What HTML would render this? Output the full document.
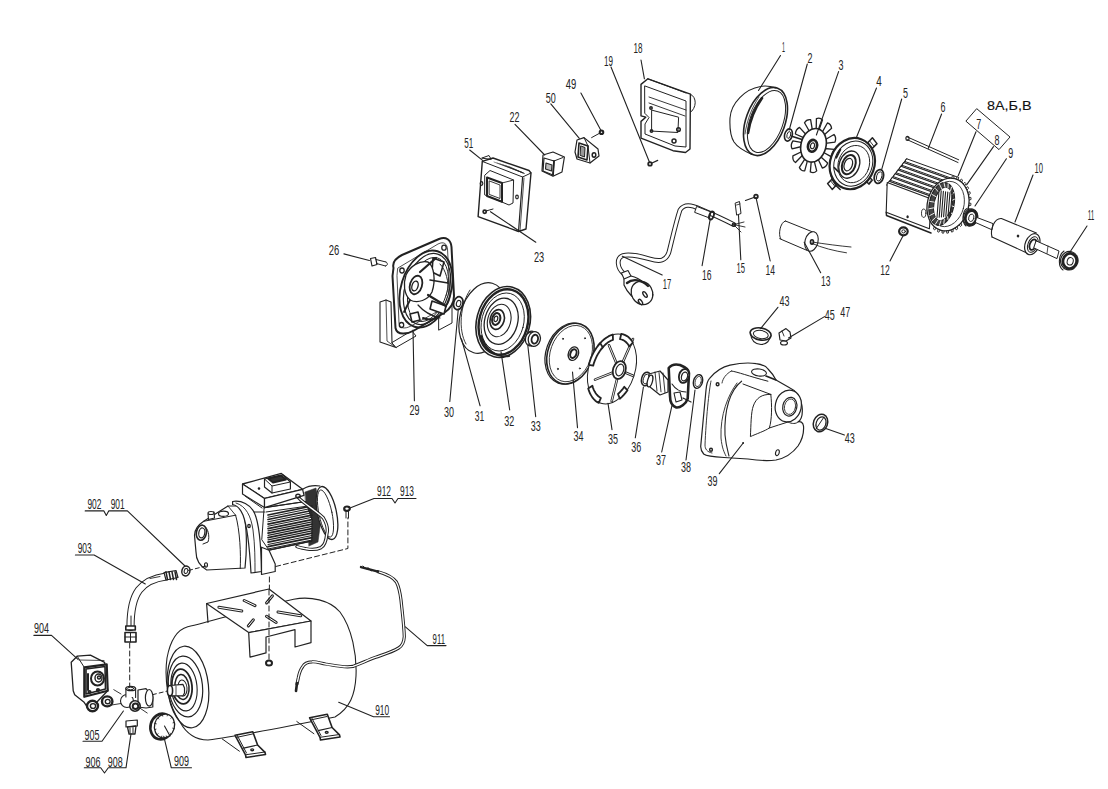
<!DOCTYPE html>
<html><head><meta charset="utf-8"><style>
html,body{margin:0;padding:0;background:#fff;}
svg{display:block;}
.n{font-family:"Liberation Sans",sans-serif;fill:#222;}
.c{font-family:"Liberation Sans",sans-serif;fill:#111;}
</style></head><body>
<svg width="1108" height="789" viewBox="0 0 1108 789" stroke-linecap="round" stroke-linejoin="round">
<rect width="1108" height="789" fill="#fff"/>
<path d="M775.8 88 C 770 86, 765 85.5, 760.5 86.5 C 745 89, 731 103, 730 118 C 729.5 128, 731 137, 734 142 C 738 148, 744 151, 752 154.5" stroke="#222" stroke-width="1.1" fill="none" />
<ellipse cx="0" cy="0" rx="19.5" ry="35.5" transform="translate(765.5,121.5) rotate(20)" stroke="#222" stroke-width="1.6" fill="none" />
<ellipse cx="0" cy="0" rx="16.5" ry="32.5" transform="translate(766.5,121.5) rotate(20)" stroke="#222" stroke-width="1.0" fill="none" />
<path d="M762 98 C 755 108, 750 120, 748 133" stroke="#222" stroke-width="2.6" fill="none" />
<path d="M759 97 C 752 107, 747 120, 745 134" stroke="#222" stroke-width="0.8" fill="none" />
<ellipse cx="0" cy="0" rx="3.8" ry="6.2" transform="translate(788.4,135) rotate(15)" stroke="#222" stroke-width="1.6" fill="none" />
<ellipse cx="0" cy="0" rx="1.8" ry="3.5" transform="translate(788.8,135) rotate(15)" stroke="#222" stroke-width="0.9" fill="none" />
<path d="M791.8 136.2 L802.0 139.6" stroke="#222" stroke-width="1.6" fill="none" />
<path d="M824.5 148.5 L834.1 149.4 Q835.0 153.7 831.5 156.9 L823.2 152.2 Z" stroke="#222" stroke-width="1.3" fill="#fff" stroke-linejoin="round"/>
<path d="M820.4 156.4 L827.6 163.0 Q826.5 167.1 822.3 168.0 L817.9 158.7 Z" stroke="#222" stroke-width="1.3" fill="#fff" stroke-linejoin="round"/>
<path d="M814.1 160.7 L816.7 170.9 Q813.9 173.7 810.3 171.9 L811.3 161.0 Z" stroke="#222" stroke-width="1.3" fill="#fff" stroke-linejoin="round"/>
<path d="M807.6 160.1 L804.7 170.8 Q801.1 171.2 799.4 167.4 L805.3 158.3 Z" stroke="#222" stroke-width="1.3" fill="#fff" stroke-linejoin="round"/>
<path d="M803.0 154.8 L795.5 162.5 Q792.3 160.5 792.9 155.8 L802.0 151.5 Z" stroke="#222" stroke-width="1.3" fill="#fff" stroke-linejoin="round"/>
<path d="M801.7 146.5 L792.0 148.8 Q790.2 145.0 792.9 140.9 L802.3 142.7 Z" stroke="#222" stroke-width="1.3" fill="#fff" stroke-linejoin="round"/>
<path d="M804.1 137.8 L795.4 134.0 Q795.5 129.6 799.5 127.4 L806.2 134.7 Z" stroke="#222" stroke-width="1.3" fill="#fff" stroke-linejoin="round"/>
<path d="M809.5 131.5 L804.5 122.7 Q806.5 119.1 810.6 119.6 L812.4 130.1 Z" stroke="#222" stroke-width="1.3" fill="#fff" stroke-linejoin="round"/>
<path d="M816.2 129.6 L816.4 118.7 Q819.8 117.0 822.5 119.9 L818.9 130.3 Z" stroke="#222" stroke-width="1.3" fill="#fff" stroke-linejoin="round"/>
<path d="M822.0 132.6 L827.4 123.0 Q831.0 123.9 831.6 128.3 L823.8 135.3 Z" stroke="#222" stroke-width="1.3" fill="#fff" stroke-linejoin="round"/>
<path d="M825.1 139.7 L834.0 134.5 Q836.7 137.5 835.0 142.1 L825.3 143.4 Z" stroke="#222" stroke-width="1.3" fill="#fff" stroke-linejoin="round"/>
<ellipse cx="0" cy="0" rx="12.5" ry="17.1" transform="translate(813.5,145.3) rotate(15)" stroke="#222" stroke-width="1.6" fill="#fff" />
<ellipse cx="0" cy="0" rx="4.5" ry="6" transform="translate(812.5,145.8) rotate(15)" stroke="#222" stroke-width="2.6" fill="none" />
<ellipse cx="0" cy="0" rx="2" ry="3" transform="translate(812.5,145.8) rotate(15)" stroke="#222" stroke-width="1.2" fill="none" />
<polygon points="867.5,143.0 872.4,137.8 877.0,143.6 872.0,148.7" stroke="#222" stroke-width="1.5" fill="#fff" stroke-linejoin="round" />
<path d="M869.6 140.8 L874.1 146.5" stroke="#222" stroke-width="0.9" fill="none" />
<polygon points="837.1,184.2 832.2,189.4 827.6,183.6 832.6,178.5" stroke="#222" stroke-width="1.5" fill="#fff" stroke-linejoin="round" />
<path d="M835.0 186.4 L830.5 180.7" stroke="#222" stroke-width="0.9" fill="none" />
<polygon points="869.9,177.6 872.2,180.2 869.1,184.1 866.5,181.8" stroke="#222" stroke-width="1.5" fill="#fff" stroke-linejoin="round" />
<path d="M871.8 179.6 L868.5 183.7" stroke="#222" stroke-width="0.9" fill="none" />
<path d="M840.3 143.6 C 826.3 153.6, 826.3 179.6, 840.3 189.6" stroke="#222" stroke-width="1.3" fill="none" />
<ellipse cx="0" cy="0" rx="22.2" ry="26" transform="translate(852.3,163.6) rotate(20)" stroke="#222" stroke-width="2.2" fill="#fff" />
<ellipse cx="0" cy="0" rx="19" ry="23" transform="translate(853.3,163.6) rotate(20)" stroke="#222" stroke-width="1.0" fill="none" />
<ellipse cx="0" cy="0" rx="15.5" ry="19" transform="translate(853.8,164.1) rotate(20)" stroke="#222" stroke-width="0.9" fill="none" />
<ellipse cx="0" cy="0" rx="10" ry="14" transform="translate(849.3,164.6) rotate(20)" stroke="#222" stroke-width="1.3" fill="none" />
<ellipse cx="0" cy="0" rx="6.5" ry="10" transform="translate(848.8,164.6) rotate(20)" stroke="#222" stroke-width="2.0" fill="none" />
<ellipse cx="0" cy="0" rx="4" ry="6.5" transform="translate(848.3,164.6) rotate(20)" stroke="#222" stroke-width="1.2" fill="none" />
<path d="M836.3 157.6 L 840.3 149.6" stroke="#222" stroke-width="2.0" fill="none" />
<path d="M834.3 167.6 L 838.3 171.6" stroke="#222" stroke-width="1.6" fill="none" />
<ellipse cx="0" cy="0" rx="4.5" ry="7" transform="translate(878.9,176.5) rotate(15)" stroke="#222" stroke-width="1.8" fill="none" />
<ellipse cx="0" cy="0" rx="2.6" ry="4.8" transform="translate(879.2,176.5) rotate(15)" stroke="#222" stroke-width="0.9" fill="none" />
<path d="M907.4 137.0 L958.7 159.8" stroke="#222" stroke-width="1.0" fill="none" />
<path d="M907.4 139.8 L958.0 162.5" stroke="#222" stroke-width="1.0" fill="none" />
<ellipse cx="0" cy="0" rx="1.6" ry="2" transform="translate(907.5,138.4) rotate(0)" stroke="#222" stroke-width="1.2" fill="none" />
<polygon points="906.7,158.8 958.7,177.5 957.2,180.3 905.2,161.6" stroke="#222" stroke-width="1.0" fill="#fff" stroke-linejoin="round" />
<path d="M905.2 161.6 L903.7 162.4 L955.7 181.1" stroke="#222" stroke-width="0.9" fill="none" />
<polygon points="903.8,162.6 954.5,180.8 953.0,183.6 902.3,165.4" stroke="#222" stroke-width="1.0" fill="#fff" stroke-linejoin="round" />
<path d="M902.3 165.4 L900.8 166.2 L951.5 184.4" stroke="#222" stroke-width="0.9" fill="none" />
<polygon points="900.9,166.3 950.2,184.1 948.7,186.9 899.4,169.1" stroke="#222" stroke-width="1.0" fill="#fff" stroke-linejoin="round" />
<path d="M899.4 169.1 L897.9 169.9 L947.2 187.7" stroke="#222" stroke-width="0.9" fill="none" />
<polygon points="898.0,170.1 946.0,187.4 944.5,190.2 896.5,172.9" stroke="#222" stroke-width="1.0" fill="#fff" stroke-linejoin="round" />
<path d="M896.5 172.9 L895.0 173.7 L943.0 191.0" stroke="#222" stroke-width="0.9" fill="none" />
<polygon points="895.1,173.9 941.8,190.7 940.3,193.5 893.6,176.7" stroke="#222" stroke-width="1.0" fill="#fff" stroke-linejoin="round" />
<path d="M893.6 176.7 L892.1 177.5 L938.8 194.3" stroke="#222" stroke-width="0.9" fill="none" />
<polygon points="892.2,177.6 937.5,194.0 936.0,196.8 890.7,180.4" stroke="#222" stroke-width="1.0" fill="#fff" stroke-linejoin="round" />
<path d="M890.7 180.4 L889.2 181.2 L934.5 197.6" stroke="#222" stroke-width="0.9" fill="none" />
<polygon points="889.3,181.4 933.3,197.2 931.8,200.0 887.8,184.2" stroke="#222" stroke-width="1.0" fill="#fff" stroke-linejoin="round" />
<path d="M887.8 184.2 L886.3 185.0 L930.3 200.8" stroke="#222" stroke-width="0.9" fill="none" />
<path d="M906.7 158.8 L889.3 181.4" stroke="#222" stroke-width="1.0" fill="none" />
<polygon points="887.2,182.5 931.4,199.0 929.4,228.8 886.2,212.3" stroke="#222" stroke-width="1.1" fill="#fff" stroke-linejoin="round" />
<path d="M886.2 212.3 L886.5 215.5 L931.0 233.0" stroke="#222" stroke-width="1.5" fill="none" />
<ellipse cx="0" cy="0" rx="2.2" ry="4.2" transform="translate(923.7,213.2) rotate(0)" stroke="#222" stroke-width="0.9" fill="none" />
<ellipse cx="0" cy="0" rx="0.6" ry="0.9" transform="translate(907.6,216.7) rotate(0)" stroke="#222" stroke-width="1.2" fill="none" />
<polygon points="968.2,208.5 970.1,209.4 969.6,211.3 967.5,211.2" stroke="#222" stroke-width="0.9" fill="#fff" stroke-linejoin="round" />
<polygon points="966.6,213.8 968.2,215.2 967.4,217.0 965.4,216.3" stroke="#222" stroke-width="0.9" fill="#fff" stroke-linejoin="round" />
<polygon points="964.1,218.7 965.4,220.5 964.3,222.1 962.6,221.0" stroke="#222" stroke-width="0.9" fill="#fff" stroke-linejoin="round" />
<polygon points="960.9,223.0 961.9,225.1 960.5,226.5 959.1,224.9" stroke="#222" stroke-width="0.9" fill="#fff" stroke-linejoin="round" />
<polygon points="957.2,226.5 957.7,228.9 956.2,229.9 955.2,227.9" stroke="#222" stroke-width="0.9" fill="#fff" stroke-linejoin="round" />
<polygon points="953.0,229.0 953.2,231.5 951.6,232.1 950.9,229.9" stroke="#222" stroke-width="0.9" fill="#fff" stroke-linejoin="round" />
<polygon points="948.7,230.5 948.4,233.0 946.8,233.2 946.5,230.8" stroke="#222" stroke-width="0.9" fill="#fff" stroke-linejoin="round" />
<polygon points="944.3,230.8 943.6,233.2 942.0,233.0 942.1,230.5" stroke="#222" stroke-width="0.9" fill="#fff" stroke-linejoin="round" />
<polygon points="940.1,230.0 938.9,232.2 937.5,231.6 938.1,229.1" stroke="#222" stroke-width="0.9" fill="#fff" stroke-linejoin="round" />
<polygon points="936.2,228.0 934.7,230.0 933.4,229.0 934.4,226.7" stroke="#222" stroke-width="0.9" fill="#fff" stroke-linejoin="round" />
<polygon points="951.7,178.2 952.4,175.8 954.0,176.0 953.9,178.5" stroke="#222" stroke-width="0.9" fill="#fff" stroke-linejoin="round" />
<polygon points="955.9,179.0 957.1,176.8 958.5,177.4 957.9,179.9" stroke="#222" stroke-width="0.9" fill="#fff" stroke-linejoin="round" />
<polygon points="959.8,181.0 961.3,179.0 962.6,180.0 961.6,182.3" stroke="#222" stroke-width="0.9" fill="#fff" stroke-linejoin="round" />
<polygon points="963.2,183.9 964.9,182.3 966.0,183.7 964.6,185.8" stroke="#222" stroke-width="0.9" fill="#fff" stroke-linejoin="round" />
<polygon points="965.9,187.8 967.8,186.7 968.6,188.3 967.0,190.0" stroke="#222" stroke-width="0.9" fill="#fff" stroke-linejoin="round" />
<polygon points="967.8,192.4 969.9,191.7 970.3,193.6 968.5,194.9" stroke="#222" stroke-width="0.9" fill="#fff" stroke-linejoin="round" />
<polygon points="968.9,197.5 970.9,197.4 971.1,199.4 969.1,200.2" stroke="#222" stroke-width="0.9" fill="#fff" stroke-linejoin="round" />
<polygon points="969.0,203.0 971.0,203.4 970.8,205.4 968.7,205.7" stroke="#222" stroke-width="0.9" fill="#fff" stroke-linejoin="round" />
<ellipse cx="0" cy="0" rx="20.6" ry="26.7" transform="translate(948,204.5) rotate(15)" stroke="#222" stroke-width="1.3" fill="#fff" />
<ellipse cx="0" cy="0" rx="17" ry="23" transform="translate(947,204.0) rotate(15)" stroke="#222" stroke-width="0.8" fill="none" />
<ellipse cx="0" cy="0" rx="12.3" ry="21.6" transform="translate(941.7,204.0) rotate(12)" stroke="#222" stroke-width="1.2" fill="#444" />
<ellipse cx="0" cy="0" rx="9" ry="17" transform="translate(943,204.0) rotate(12)" stroke="#222" stroke-width="1.0" fill="#fff" />
<path d="M951.8 205.9 L953.7 206.6" stroke="#fff" stroke-width="0.9" fill="none" />
<path d="M950.1 211.4 L951.5 213.6" stroke="#fff" stroke-width="0.9" fill="none" />
<path d="M947.5 216.1 L948.0 219.5" stroke="#fff" stroke-width="0.9" fill="none" />
<path d="M944.3 219.3 L943.8 223.6" stroke="#fff" stroke-width="0.9" fill="none" />
<path d="M941.0 220.7 L939.4 225.3" stroke="#fff" stroke-width="0.9" fill="none" />
<path d="M938.0 220.1 L935.2 224.4" stroke="#fff" stroke-width="0.9" fill="none" />
<path d="M935.5 217.5 L931.8 221.0" stroke="#fff" stroke-width="0.9" fill="none" />
<path d="M934.0 213.3 L929.6 215.6" stroke="#fff" stroke-width="0.9" fill="none" />
<path d="M933.5 207.9 L928.9 208.8" stroke="#fff" stroke-width="0.9" fill="none" />
<path d="M934.2 202.1 L929.7 201.4" stroke="#fff" stroke-width="0.9" fill="none" />
<path d="M935.9 196.6 L931.9 194.4" stroke="#fff" stroke-width="0.9" fill="none" />
<path d="M938.5 191.9 L935.4 188.5" stroke="#fff" stroke-width="0.9" fill="none" />
<path d="M941.7 188.7 L939.6 184.4" stroke="#fff" stroke-width="0.9" fill="none" />
<path d="M945.0 187.3 L944.0 182.7" stroke="#fff" stroke-width="0.9" fill="none" />
<path d="M948.0 187.9 L948.2 183.6" stroke="#fff" stroke-width="0.9" fill="none" />
<path d="M950.5 190.5 L951.6 187.0" stroke="#fff" stroke-width="0.9" fill="none" />
<path d="M952.0 194.7 L953.8 192.4" stroke="#fff" stroke-width="0.9" fill="none" />
<path d="M952.5 200.1 L954.5 199.2" stroke="#fff" stroke-width="0.9" fill="none" />
<path d="M939.0 190.5 L937.0 217.5" stroke="#222" stroke-width="1.1" fill="none" />
<path d="M941.2 190.9 L939.2 217.2" stroke="#222" stroke-width="1.1" fill="none" />
<path d="M943.4 191.3 L941.4 216.9" stroke="#222" stroke-width="1.1" fill="none" />
<path d="M945.6 191.7 L943.6 216.6" stroke="#222" stroke-width="1.1" fill="none" />
<path d="M947.8 192.1 L945.8 216.3" stroke="#222" stroke-width="1.1" fill="none" />
<path d="M950.0 192.5 L948.0 216.0" stroke="#222" stroke-width="1.1" fill="none" />
<path d="M952.2 192.9 L950.2 215.7" stroke="#222" stroke-width="1.1" fill="none" />
<path d="M967 208.5 C 962 211, 962 223, 966 226" stroke="#222" stroke-width="1.1" fill="none" />
<ellipse cx="0" cy="0" rx="7.2" ry="8.7" transform="translate(970.5,217.4) rotate(15)" stroke="#222" stroke-width="1.2" fill="#fff" />
<ellipse cx="0" cy="0" rx="5.6" ry="7.2" transform="translate(971,217.6) rotate(15)" stroke="#222" stroke-width="2.8" fill="none" />
<ellipse cx="0" cy="0" rx="2.6" ry="3.8" transform="translate(971.3,217.8) rotate(15)" stroke="#222" stroke-width="0.9" fill="none" />
<polygon points="976.7,217.4 993.0,223.6 992.0,229.8 975.7,222.6" stroke="#222" stroke-width="1.0" fill="#fff" stroke-linejoin="round" />
<polygon points="1001.4,218.5 1036.4,232.9 1028.0,253.5 992.0,237.0" stroke="#fff" stroke-width="0.01" fill="#fff" stroke-linejoin="round" />
<path d="M1001.4 218.5 L1036.4 232.9" stroke="#222" stroke-width="1.1" fill="none" />
<path d="M992.0 237.0 L1028.0 253.5" stroke="#222" stroke-width="1.1" fill="none" />
<path d="M1001.4 218.5 C 994 218, 990 230, 992 237" stroke="#222" stroke-width="1.1" fill="none" />
<ellipse cx="0" cy="0" rx="7" ry="11" transform="translate(1032.3,244.2) rotate(22)" stroke="#222" stroke-width="1.2" fill="#fff" />
<ellipse cx="0" cy="0" rx="4.8" ry="8.2" transform="translate(1032.8,244.5) rotate(22)" stroke="#222" stroke-width="1.0" fill="none" />
<ellipse cx="0" cy="0" rx="3.2" ry="5.5" transform="translate(1033,244.7) rotate(22)" stroke="#222" stroke-width="1.8" fill="none" />
<polygon points="1036.4,241.0 1059.0,251.0 1057.0,258.6 1034.0,248.0" stroke="#222" stroke-width="1.0" fill="#fff" stroke-linejoin="round" />
<path d="M1048.0 246.0 L1047.0 253.5" stroke="#222" stroke-width="0.8" fill="none" />
<ellipse cx="0" cy="0" rx="0.7" ry="0.9" transform="translate(1018,236) rotate(0)" stroke="#222" stroke-width="1.2" fill="none" />
<path d="M1064 251 C 1058 255, 1058 267, 1063 270" stroke="#222" stroke-width="1.1" fill="none" />
<ellipse cx="0" cy="0" rx="8.7" ry="9.3" transform="translate(1069.3,260.7) rotate(15)" stroke="#222" stroke-width="1.2" fill="#fff" />
<ellipse cx="0" cy="0" rx="6.8" ry="7.6" transform="translate(1069.8,261) rotate(15)" stroke="#222" stroke-width="2.8" fill="none" />
<ellipse cx="0" cy="0" rx="3" ry="3.8" transform="translate(1070.2,261.3) rotate(15)" stroke="#222" stroke-width="1.0" fill="none" />
<ellipse cx="0" cy="0" rx="4.3" ry="4" transform="translate(903.4,231.3) rotate(0)" stroke="#222" stroke-width="2.2" fill="none" />
<ellipse cx="0" cy="0" rx="1.8" ry="1.6" transform="translate(903.6,231.4) rotate(0)" stroke="#222" stroke-width="1.0" fill="none" />
<polygon points="785.4,221.0 814.8,232.8 809.0,250.4 780.7,238.7" stroke="#fff" stroke-width="0.01" fill="#fff" stroke-linejoin="round" />
<path d="M785.4 221.0 L814.8 232.8" stroke="#222" stroke-width="1.0" fill="none" />
<path d="M779.7 238.7 L807.0 250.4" stroke="#222" stroke-width="1.0" fill="none" />
<path d="M785.4 221 C 780 222, 778 235, 780.7 238.7" stroke="#222" stroke-width="1.0" fill="none" />
<ellipse cx="0" cy="0" rx="6.5" ry="10" transform="translate(811.5,241.5) rotate(15)" stroke="#222" stroke-width="1.1" fill="#fff" />
<path d="M812 242 C 825 244, 840 246, 851 247" stroke="#222" stroke-width="0.9" fill="none" />
<path d="M811 243 C 822 248, 835 251, 846.5 252.8" stroke="#222" stroke-width="0.9" fill="none" />
<ellipse cx="0" cy="0" rx="1.6" ry="2.2" transform="translate(812,242) rotate(0)" stroke="#222" stroke-width="1.5" fill="none" />
<ellipse cx="0" cy="0" rx="1.8" ry="1.8" transform="translate(756,196.4) rotate(0)" stroke="#222" stroke-width="1.8" fill="none" />
<path d="M754.5 197.2 L745.5 200.5" stroke="#222" stroke-width="1.2" fill="none" />
<polygon points="735.5,203.0 739.5,201.5 741.0,213.5 737.0,215.0" stroke="#222" stroke-width="1.0" fill="#fff" stroke-linejoin="round" />
<path d="M736.5 205.0 L740.0 204.0" stroke="#222" stroke-width="0.8" fill="none" />
<path d="M733.8 224.6 C 725 220, 712 214, 700 209 C 690 204, 684 204, 680 210 C 676 222, 672 240, 669 252 C 666 261, 660 262, 650 259 C 640 256, 630 254, 623 255.5 C 616 258, 617 268, 624 274" stroke="#222" stroke-width="4.8" fill="none" />
<path d="M733.8 224.6 C 725 220, 712 214, 700 209 C 690 204, 684 204, 680 210 C 676 222, 672 240, 669 252 C 666 261, 660 262, 650 259 C 640 256, 630 254, 623 255.5 C 616 258, 617 268, 624 274" stroke="#fff" stroke-width="2.8" fill="none" />
<polygon points="697.0,206.5 711.0,212.0 709.5,218.0 695.0,212.5" stroke="#222" stroke-width="1.0" fill="#fff" stroke-linejoin="round" />
<ellipse cx="0" cy="0" rx="2.2" ry="4.2" transform="translate(711.5,215.5) rotate(20)" stroke="#222" stroke-width="1.8" fill="none" />
<path d="M733.8 224.6 L744 222 M733.5 224.5 L745 227 M734 225 L741 232" stroke="#222" stroke-width="0.9" fill="none" />
<ellipse cx="0" cy="0" rx="1.5" ry="1.5" transform="translate(733.8,224.6) rotate(0)" stroke="#222" stroke-width="1.4" fill="none" />
<polygon points="621.4,273.0 628.0,270.5 632.0,278.0 625.0,281.0" stroke="#222" stroke-width="1.1" fill="#fff" stroke-linejoin="round" />
<path d="M624 279 L 631 276 C 640 278, 650 286, 653 295 L 642 303 C 634 300, 627 292, 624 285 Z" stroke="#222" stroke-width="1.2" fill="#fff" />
<ellipse cx="0" cy="0" rx="10.5" ry="12" transform="translate(642,293) rotate(-30)" stroke="#222" stroke-width="1.3" fill="#fff" />
<path d="M627 283 C 633 278, 642 280, 648 286" stroke="#222" stroke-width="2.4" fill="none" />
<ellipse cx="0" cy="0" rx="1.5" ry="3.2" transform="translate(645,294.5) rotate(-35)" stroke="#222" stroke-width="1.4" fill="none" />
<ellipse cx="0" cy="0" rx="1.5" ry="3" transform="translate(640.5,302) rotate(-35)" stroke="#222" stroke-width="1.4" fill="none" />
<path d="M690.4 94.2 C 697 97, 697 108, 689.7 113" stroke="#222" stroke-width="1.0" fill="none" />
<polygon points="641.0,84.4 647.9,78.8 690.4,94.2 690.0,149.0 685.5,152.5 673.0,150.7 641.0,138.1 641.0,121.4 645.8,117.2 641.0,115.8" stroke="#222" stroke-width="1.4" fill="#fff" stroke-linejoin="round" />
<polygon points="645.0,86.0 686.0,101.0 686.0,147.0 675.0,146.0 645.0,134.0 645.0,124.0 649.0,117.5 645.0,113.5" stroke="#222" stroke-width="1.0" fill="none" stroke-linejoin="round" />
<path d="M647.9 78.8 L686.0 93.0" stroke="#222" stroke-width="1.0" fill="none" />
<path d="M649.0 97.0 L686.0 110.0" stroke="#222" stroke-width="0.9" fill="none" />
<path d="M649.0 103.0 L685.0 116.0" stroke="#222" stroke-width="0.9" fill="none" />
<polygon points="652.0,110.2 678.6,117.2 677.9,132.5 652.0,131.1" stroke="#222" stroke-width="1.0" fill="none" stroke-linejoin="round" />
<ellipse cx="0" cy="0" rx="1.2" ry="1.2" transform="translate(651,108) rotate(0)" stroke="#222" stroke-width="1.5" fill="none" />
<ellipse cx="0" cy="0" rx="1.2" ry="1.2" transform="translate(651.5,131) rotate(0)" stroke="#222" stroke-width="1.5" fill="none" />
<ellipse cx="0" cy="0" rx="1.8" ry="1.8" transform="translate(678.5,129.5) rotate(0)" stroke="#222" stroke-width="1.5" fill="none" />
<ellipse cx="0" cy="0" rx="2.0" ry="2.0" transform="translate(674,141) rotate(0)" stroke="#222" stroke-width="1.5" fill="none" />
<ellipse cx="0" cy="0" rx="1.8" ry="1.8" transform="translate(650,163.9) rotate(0)" stroke="#222" stroke-width="1.8" fill="none" />
<path d="M651.5 163.2 L657.7 160.4" stroke="#222" stroke-width="1.2" fill="none" />
<ellipse cx="0" cy="0" rx="1.8" ry="1.8" transform="translate(601.5,132.3) rotate(0)" stroke="#222" stroke-width="2.0" fill="none" />
<path d="M600.0 133.0 L591.6 137.6" stroke="#222" stroke-width="1.0" fill="none" />
<polygon points="577.0,140.0 584.0,137.6 598.0,149.0 599.0,156.0 590.0,163.0 577.0,159.0 575.0,152.0" stroke="#222" stroke-width="1.2" fill="#fff" stroke-linejoin="round" />
<polygon points="579.0,143.0 588.0,146.0 587.0,160.0 578.0,157.0" stroke="#222" stroke-width="1.6" fill="#fff" stroke-linejoin="round" />
<polygon points="581.0,146.0 585.0,147.5 584.5,157.0 580.5,155.5" stroke="#222" stroke-width="1.0" fill="#999" stroke-linejoin="round" />
<path d="M584.0 137.6 L588.0 146.0" stroke="#222" stroke-width="1.0" fill="none" />
<path d="M590.0 163.0 L588.0 146.0" stroke="#222" stroke-width="1.0" fill="none" />
<ellipse cx="0" cy="0" rx="1.8" ry="2.2" transform="translate(594,155) rotate(0)" stroke="#222" stroke-width="1.5" fill="none" />
<polygon points="543.0,155.0 553.0,152.0 564.4,157.0 562.0,172.0 553.0,176.3 542.0,171.0" stroke="#222" stroke-width="1.2" fill="#fff" stroke-linejoin="round" />
<polygon points="544.0,158.0 554.0,161.0 553.0,175.0 543.0,171.0" stroke="#222" stroke-width="1.2" fill="none" stroke-linejoin="round" />
<polygon points="546.0,163.0 552.0,165.0 551.5,171.0 545.5,169.0" stroke="#222" stroke-width="1.1" fill="#bbb" stroke-linejoin="round" />
<path d="M554.0 161.0 L553.0 175.0" stroke="#222" stroke-width="1.8" fill="none" />
<path d="M554.0 161.0 L563.0 157.5" stroke="#222" stroke-width="1.0" fill="none" />
<polygon points="482.3,161.4 493.0,158.0 529.0,170.5 531.0,173.0 526.0,229.0 518.5,231.5 478.1,216.6" stroke="#222" stroke-width="1.4" fill="#fff" stroke-linejoin="round" />
<path d="M482.3 161.4 L522.6 177.0 L531.0 173.0" stroke="#222" stroke-width="1.0" fill="none" />
<path d="M522.6 177.0 L518.5 231.5" stroke="#222" stroke-width="1.2" fill="none" />
<path d="M524.0 178.0 L520.0 231.0" stroke="#222" stroke-width="0.8" fill="none" />
<polygon points="482.0,158.0 489.0,155.5 491.0,159.0" stroke="#222" stroke-width="1.0" fill="none" stroke-linejoin="round" />
<path d="M494.0 162.0 L522.0 172.5" stroke="#222" stroke-width="0.5" fill="none" />
<path d="M497.0 162.9 L522.5 172.7" stroke="#222" stroke-width="0.5" fill="none" />
<path d="M500.0 163.8 L523.0 172.9" stroke="#222" stroke-width="0.5" fill="none" />
<path d="M503.0 164.7 L523.5 173.1" stroke="#222" stroke-width="0.5" fill="none" />
<path d="M506.0 165.6 L524.0 173.3" stroke="#222" stroke-width="0.5" fill="none" />
<path d="M509.0 166.5 L524.5 173.5" stroke="#222" stroke-width="0.5" fill="none" />
<polygon points="485.0,175.0 490.0,170.5 513.6,180.0 513.0,203.0 509.0,205.0 485.0,195.0" stroke="#222" stroke-width="1.0" fill="#fff" stroke-linejoin="round" />
<polygon points="487.0,177.5 502.0,183.0 502.0,201.8 487.0,196.0" stroke="#222" stroke-width="2.0" fill="none" stroke-linejoin="round" />
<polygon points="489.5,181.0 500.0,185.0 500.0,198.5 489.5,194.5" stroke="#222" stroke-width="0.9" fill="none" stroke-linejoin="round" />
<path d="M502.0 183.0 L513.6 180.0" stroke="#222" stroke-width="0.9" fill="none" />
<ellipse cx="0" cy="0" rx="1.3" ry="1.8" transform="translate(481.5,183.5) rotate(0)" stroke="#222" stroke-width="1.2" fill="none" />
<ellipse cx="0" cy="0" rx="1.3" ry="1.8" transform="translate(517,197) rotate(0)" stroke="#222" stroke-width="1.2" fill="none" />
<ellipse cx="0" cy="0" rx="1.6" ry="1.6" transform="translate(484.7,211.7) rotate(0)" stroke="#222" stroke-width="1.7" fill="none" />
<path d="M486.0 211.0 L493.0 209.0" stroke="#222" stroke-width="1.0" fill="none" />
<polygon points="370.5,258.5 375.5,257.5 377.0,264.5 372.0,266.0" stroke="#222" stroke-width="1.2" fill="#fff" stroke-linejoin="round" />
<path d="M376.0 259.5 L386.0 262.0" stroke="#222" stroke-width="1.0" fill="none" />
<path d="M376.5 263.5 L385.5 266.0" stroke="#222" stroke-width="1.0" fill="none" />
<path d="M386 262 C 388 263, 388 265.5, 385.5 266" stroke="#222" stroke-width="1.0" fill="none" />
<polygon points="380.0,302.0 386.0,300.0 391.0,302.0 392.0,343.0 396.0,347.5 380.0,342.0" stroke="#222" stroke-width="1.1" fill="#fff" stroke-linejoin="round" />
<path d="M386.0 300.0 L387.0 341.0 L396.0 347.5" stroke="#222" stroke-width="0.8" fill="none" />
<polygon points="392.0,343.0 396.0,347.5 416.0,336.0 412.0,331.0" stroke="#222" stroke-width="1.0" fill="#fff" stroke-linejoin="round" />
<polygon points="439.0,310.0 452.0,303.0 452.0,323.0 439.0,330.0" stroke="#222" stroke-width="1.0" fill="#fff" stroke-linejoin="round" />
<path d="M393.5 268 C 392 262, 396 258, 402 255 L 439 239 C 446 236, 451 240, 451.5 247 L 454 296 C 454 304, 450 309, 444 313 L 414 330.5 C 408 334, 397 336, 395.5 328 L 392.5 276 Z" stroke="#222" stroke-width="2.0" fill="#fff" />
<path d="M398 268 L 438 244 C 444 241, 447 244, 447.5 249 L 450 295 C 450 302, 447 306, 442 309 L 411 326 C 405 329, 400 329, 399 323 L 397 276 Z" stroke="#222" stroke-width="0.8" fill="none" />
<ellipse cx="0" cy="0" rx="25" ry="39.5" transform="translate(426,289) rotate(17)" stroke="#222" stroke-width="1.9" fill="none" />
<ellipse cx="0" cy="0" rx="22" ry="36.5" transform="translate(427,289) rotate(17)" stroke="#222" stroke-width="1.2" fill="none" />
<ellipse cx="0" cy="0" rx="19" ry="33" transform="translate(428,289.5) rotate(17)" stroke="#222" stroke-width="0.9" fill="none" />
<path d="M433 258 L 444 262 L 440 276 L 432 272 Z" stroke="#222" stroke-width="1.6" fill="#fff" />
<path d="M432 301 L 446 306 L 444 314 L 430 309 Z" stroke="#222" stroke-width="1.6" fill="#fff" />
<path d="M410 314 L 418 312 L 420 320 L 412 322 Z" stroke="#222" stroke-width="1.6" fill="#fff" />
<path d="M406 275 C 410 266, 420 260, 428 262 C 434 266, 436 280, 432 292 C 428 300, 418 304, 410 300 C 404 294, 403 284, 406 275 Z" stroke="#222" stroke-width="1.3" fill="#fff" />
<ellipse cx="0" cy="0" rx="6" ry="9.5" transform="translate(416,285) rotate(17)" stroke="#222" stroke-width="1.8" fill="#fff" />
<ellipse cx="0" cy="0" rx="3" ry="5" transform="translate(415,286) rotate(17)" stroke="#222" stroke-width="1.4" fill="none" />
<path d="M420.0 272.0 L436.0 258.0" stroke="#222" stroke-width="2.2" fill="none" />
<path d="M428.0 295.0 L446.0 306.0" stroke="#222" stroke-width="2.2" fill="none" />
<path d="M410.0 300.0 L404.0 312.0" stroke="#222" stroke-width="1.8" fill="none" />
<path d="M430.0 280.0 L448.0 283.0" stroke="#222" stroke-width="1.6" fill="none" />
<path d="M418 305 C 424 312, 432 316, 440 318" stroke="#222" stroke-width="1.2" fill="none" />
<path d="M423 318 C 428 320, 432 320, 436 318" stroke="#222" stroke-width="2.0" fill="none" />
<path d="M440 264 C 446 270, 449 282, 448 292" stroke="#222" stroke-width="1.0" fill="none" />
<ellipse cx="0" cy="0" rx="2.2" ry="2.5" transform="translate(402,270.5) rotate(0)" stroke="#222" stroke-width="1.3" fill="none" />
<ellipse cx="0" cy="0" rx="2.2" ry="2.5" transform="translate(444,247.7) rotate(0)" stroke="#222" stroke-width="1.3" fill="none" />
<ellipse cx="0" cy="0" rx="2.2" ry="2.5" transform="translate(401.5,325) rotate(0)" stroke="#222" stroke-width="1.3" fill="none" />
<ellipse cx="0" cy="0" rx="4.6" ry="6.6" transform="translate(458.3,303.2) rotate(15)" stroke="#222" stroke-width="1.8" fill="#fff" />
<ellipse cx="0" cy="0" rx="2.2" ry="3.2" transform="translate(458.6,303.5) rotate(15)" stroke="#222" stroke-width="1.1" fill="none" />
<ellipse cx="0" cy="0" rx="23" ry="36" transform="translate(483,318) rotate(15)" stroke="#222" stroke-width="1.2" fill="#fff" />
<path d="M470 290 C 460 305, 458 330, 466 344" stroke="#222" stroke-width="0.9" fill="none" />
<ellipse cx="0" cy="0" rx="26.6" ry="36" transform="translate(503.2,322) rotate(15)" stroke="#222" stroke-width="1.6" fill="#fff" />
<ellipse cx="0" cy="0" rx="24.2" ry="33.2" transform="translate(503.5,322) rotate(15)" stroke="#222" stroke-width="2.4" fill="none" />
<ellipse cx="0" cy="0" rx="21" ry="29.5" transform="translate(502.7,322) rotate(15)" stroke="#222" stroke-width="0.9" fill="none" />
<ellipse cx="0" cy="0" rx="16.5" ry="23.5" transform="translate(501.2,321.2) rotate(15)" stroke="#222" stroke-width="1.3" fill="none" />
<ellipse cx="0" cy="0" rx="11.5" ry="16.5" transform="translate(499.2,320.5) rotate(15)" stroke="#222" stroke-width="1.1" fill="none" />
<ellipse cx="0" cy="0" rx="7" ry="10" transform="translate(497.2,319.5) rotate(15)" stroke="#222" stroke-width="1.6" fill="none" />
<ellipse cx="0" cy="0" rx="4" ry="6" transform="translate(496.2,319) rotate(15)" stroke="#222" stroke-width="2.0" fill="none" />
<ellipse cx="0" cy="0" rx="1.8" ry="2.8" transform="translate(495.9,318.8) rotate(15)" stroke="#222" stroke-width="1.2" fill="none" />
<path d="M481.2 336 C 485.2 350, 497.2 358, 509.2 356" stroke="#222" stroke-width="2.0" fill="none" />
<ellipse cx="0" cy="0" rx="5.5" ry="7.5" transform="translate(531,338.5) rotate(15)" stroke="#222" stroke-width="1.3" fill="#fff" />
<ellipse cx="0" cy="0" rx="6" ry="7.5" transform="translate(534.3,339) rotate(15)" stroke="#222" stroke-width="1.3" fill="#fff" />
<ellipse cx="0" cy="0" rx="3.2" ry="4.5" transform="translate(534.8,339.2) rotate(15)" stroke="#222" stroke-width="1.8" fill="none" />
<path d="M528.5 333 L 532 332 M528 344 L 531.5 346" stroke="#222" stroke-width="1.0" fill="none" />
<ellipse cx="0" cy="0" rx="22.8" ry="31.4" transform="translate(568.9,353.6) rotate(20)" stroke="#222" stroke-width="1.2" fill="#fff" />
<ellipse cx="0" cy="0" rx="22.5" ry="31.2" transform="translate(570.4,353.6) rotate(20)" stroke="#222" stroke-width="1.6" fill="#fff" />
<ellipse cx="0" cy="0" rx="20.5" ry="29" transform="translate(570.9,353.6) rotate(20)" stroke="#222" stroke-width="0.8" fill="none" />
<ellipse cx="0" cy="0" rx="5" ry="7" transform="translate(573.4,353.6) rotate(20)" stroke="#222" stroke-width="1.3" fill="none" />
<ellipse cx="0" cy="0" rx="3" ry="4.5" transform="translate(573.4,353.6) rotate(20)" stroke="#222" stroke-width="2.0" fill="none" />
<ellipse cx="0" cy="0" rx="0.5" ry="0.6" transform="translate(584.9640535758668,338.2616020852563) rotate(0)" stroke="#222" stroke-width="1.0" fill="none" />
<ellipse cx="0" cy="0" rx="0.5" ry="0.6" transform="translate(579.8447436436583,368.3795908195354) rotate(0)" stroke="#222" stroke-width="1.0" fill="none" />
<ellipse cx="0" cy="0" rx="0.5" ry="0.6" transform="translate(557.8359464241331,368.93839791474375) rotate(0)" stroke="#222" stroke-width="1.0" fill="none" />
<ellipse cx="0" cy="0" rx="0.5" ry="0.6" transform="translate(562.9552563563417,338.82040918046465) rotate(0)" stroke="#222" stroke-width="1.0" fill="none" />
<ellipse cx="0" cy="0" rx="23" ry="36" transform="translate(612,369) rotate(18)" stroke="#222" stroke-width="1.0" fill="#fff" />
<path d="M619.3 370.0 L633.0 339.0" stroke="#222" stroke-width="2.6" fill="none" />
<path d="M619.3 370.0 L633.0 339.0" stroke="#fff" stroke-width="0.9" fill="none" />
<path d="M619.3 370.0 L609.0 345.3" stroke="#222" stroke-width="2.6" fill="none" />
<path d="M619.3 370.0 L609.0 345.3" stroke="#fff" stroke-width="0.9" fill="none" />
<path d="M619.3 370.0 L595.0 379.6" stroke="#222" stroke-width="2.6" fill="none" />
<path d="M619.3 370.0 L595.0 379.6" stroke="#fff" stroke-width="0.9" fill="none" />
<path d="M619.3 370.0 L611.7 401.0" stroke="#222" stroke-width="2.6" fill="none" />
<path d="M619.3 370.0 L611.7 401.0" stroke="#fff" stroke-width="0.9" fill="none" />
<path d="M619.3 370.0 L633.0 375.8" stroke="#222" stroke-width="2.6" fill="none" />
<path d="M619.3 370.0 L633.0 375.8" stroke="#fff" stroke-width="0.9" fill="none" />
<polygon points="621.3,333.8 623.3,334.3 625.2,335.1 627.0,336.1 628.7,337.3 630.2,338.9 631.7,340.6 632.9,342.6 629.3,346.4 628.3,344.8 627.2,343.3 625.9,342.0 624.6,341.0 623.1,340.1 621.6,339.5 620.0,339.1" stroke="#222" stroke-width="1.8" fill="#fff" stroke-linejoin="round" />
<polygon points="598.3,345.4 600.2,343.1 602.1,341.1 604.2,339.3 606.3,337.7 608.4,336.4 610.6,335.3 612.8,334.5 613.0,339.8 611.3,340.5 609.5,341.5 607.7,342.6 606.0,344.0 604.3,345.6 602.7,347.3 601.1,349.2" stroke="#222" stroke-width="1.8" fill="#fff" stroke-linejoin="round" />
<polygon points="588.8,364.8 589.7,361.7 590.7,358.7 591.9,355.8 593.3,353.0 594.9,350.3 596.5,347.7 598.3,345.4 600.2,343.1 602.7,347.3 601.1,349.2 599.7,351.2 598.3,353.4 597.0,355.7 595.9,358.1 594.8,360.6 593.9,363.1 593.2,365.7" stroke="#222" stroke-width="1.8" fill="#fff" stroke-linejoin="round" />
<polygon points="598.8,402.9 597.0,401.9 595.3,400.7 593.8,399.1 592.3,397.4 591.1,395.4 589.9,393.3 589.0,390.9 588.2,388.4 592.4,385.7 593.0,387.8 593.8,389.8 594.7,391.6 595.7,393.2 596.8,394.7 598.1,396.0 599.4,397.0 600.9,397.9" stroke="#222" stroke-width="1.8" fill="#fff" stroke-linejoin="round" />
<polygon points="627.5,390.3 625.7,392.6 623.8,394.9 621.9,396.9 619.8,398.7 618.0,394.0 619.7,392.4 621.3,390.7 622.9,388.8 624.3,386.8" stroke="#222" stroke-width="1.8" fill="#fff" stroke-linejoin="round" />
<ellipse cx="0" cy="0" rx="6.3" ry="9" transform="translate(619.3,370) rotate(18)" stroke="#222" stroke-width="1.8" fill="#fff" />
<ellipse cx="0" cy="0" rx="3.8" ry="6" transform="translate(619.8,370) rotate(18)" stroke="#222" stroke-width="1.2" fill="none" />
<ellipse cx="0" cy="0" rx="4.4" ry="7" transform="translate(646,379) rotate(15)" stroke="#222" stroke-width="1.5" fill="none" />
<ellipse cx="0" cy="0" rx="2.8" ry="5" transform="translate(646.2,379) rotate(15)" stroke="#222" stroke-width="0.9" fill="none" />
<polygon points="649.0,374.0 660.0,371.0 668.0,380.0 668.0,392.0 660.0,395.0 650.0,387.0" stroke="#222" stroke-width="1.2" fill="#fff" stroke-linejoin="round" />
<ellipse cx="0" cy="0" rx="2.5" ry="6" transform="translate(650,381) rotate(15)" stroke="#222" stroke-width="1.3" fill="#fff" />
<path d="M655.0 372.0 L657.0 391.0" stroke="#222" stroke-width="0.9" fill="none" />
<path d="M659.0 372.5 L661.0 391.8" stroke="#222" stroke-width="0.9" fill="none" />
<path d="M663.0 373.0 L665.0 392.6" stroke="#222" stroke-width="0.9" fill="none" />
<path d="M668.7 368 C 672 364, 676 364, 680 365 C 685 367, 689 370, 689 373 L 687.7 398.6 C 686 404, 680 408, 676.3 407.5 C 672 406, 670 402, 670 396 L 668.7 368 Z" stroke="#222" stroke-width="2.6" fill="#fff" />
<ellipse cx="0" cy="0" rx="5" ry="7" transform="translate(684,376) rotate(15)" stroke="#222" stroke-width="1.8" fill="#fff" />
<ellipse cx="0" cy="0" rx="3" ry="4.5" transform="translate(684.5,376.5) rotate(15)" stroke="#222" stroke-width="1.2" fill="none" />
<path d="M672 384 C 676 390, 680 392, 686 392" stroke="#222" stroke-width="1.1" fill="none" />
<polygon points="674.0,393.0 680.0,392.0 682.0,400.0 676.0,402.0" stroke="#222" stroke-width="1.1" fill="none" stroke-linejoin="round" />
<path d="M683.0 398.0 L691.0 402.0" stroke="#222" stroke-width="1.2" fill="none" />
<ellipse cx="0" cy="0" rx="4.5" ry="7" transform="translate(698,381.5) rotate(15)" stroke="#222" stroke-width="1.4" fill="none" />
<ellipse cx="0" cy="0" rx="3" ry="5.2" transform="translate(698.2,381.5) rotate(15)" stroke="#222" stroke-width="0.8" fill="none" />
<path d="M709.6 378.3 C 715 372, 722 367, 730 365.2 C 740 363, 750 362.5, 756.2 363.7 C 762 364.5, 766 366, 768 369 C 772 373, 774 376, 776 380 L 790 388 C 797 391, 801 398, 802 406 C 803 414, 801 420, 798 422 C 800 421, 803 422, 803.5 426 C 804 432, 802 440, 798 446 C 792 454, 786 458, 776 460 C 768 461, 758 460.5, 748 459 L 724 457.5 C 714 457, 706 456, 703.7 454 C 701 451, 700.5 448, 700.8 445.4 L 706 390 C 706.5 384, 707 381, 709.6 378.3 Z" stroke="#222" stroke-width="1.2" fill="#fff" />
<path d="M711 381 C 709 390, 706 420, 705 445 C 705 449, 707 452, 712 453" stroke="#222" stroke-width="0.9" fill="none" />
<path d="M731.4 371 C 738 372, 748 376, 767.9 381.2" stroke="#222" stroke-width="1.0" fill="none" />
<path d="M731.4 371 C 726 374, 723 378, 722 383" stroke="#222" stroke-width="0.9" fill="none" />
<path d="M741.6 381.2 C 730 390, 724 410, 725 435 C 726 446, 728 452, 729 456" stroke="#222" stroke-width="1.1" fill="none" />
<path d="M737 383 C 728 395, 720 415, 721 438 C 722 448, 724 452, 726 456" stroke="#222" stroke-width="0.9" fill="none" />
<path d="M743 384 L 770.8 394.4" stroke="#222" stroke-width="1.0" fill="none" />
<ellipse cx="0" cy="0" rx="7.5" ry="3.5" transform="translate(759,372.5) rotate(8)" stroke="#222" stroke-width="1.1" fill="none" />
<path d="M766 376 L 776 380" stroke="#222" stroke-width="1.6" fill="none" />
<ellipse cx="0" cy="0" rx="13" ry="16" transform="translate(788.3,406) rotate(12)" stroke="#222" stroke-width="1.2" fill="#fff" />
<ellipse cx="0" cy="0" rx="7" ry="9.5" transform="translate(789.8,406.7) rotate(12)" stroke="#222" stroke-width="1.2" fill="none" />
<ellipse cx="0" cy="0" rx="5.5" ry="7.8" transform="translate(790,406.7) rotate(12)" stroke="#222" stroke-width="0.8" fill="none" />
<path d="M770.8 394.4 C 772 405, 772 420, 769.3 428 C 765 431, 756 434, 750.4 436.6 C 751 425, 751 412, 753.3 406 C 756 398, 762 394, 770.8 394.4" stroke="#222" stroke-width="1.0" fill="none" />
<path d="M769.3 428 C 775 426, 782 424, 788 422 C 792 424, 796 424, 798 422" stroke="#222" stroke-width="1.0" fill="none" />
<ellipse cx="0" cy="0" rx="1.8" ry="3" transform="translate(777.4,452.7) rotate(15)" stroke="#222" stroke-width="1.1" fill="none" />
<ellipse cx="0" cy="0" rx="1.4" ry="1.5" transform="translate(717.6,384.2) rotate(0)" stroke="#222" stroke-width="1.4" fill="none" />
<ellipse cx="0" cy="0" rx="1.4" ry="1.5" transform="translate(711,449.8) rotate(0)" stroke="#222" stroke-width="1.4" fill="none" />
<ellipse cx="0" cy="0" rx="0.5" ry="0.6" transform="translate(743,443) rotate(0)" stroke="#222" stroke-width="1.0" fill="none" />
<ellipse cx="0" cy="0" rx="10.6" ry="6" transform="translate(760.6,334) rotate(10)" stroke="#222" stroke-width="1.6" fill="#fff" />
<ellipse cx="0" cy="0" rx="7.5" ry="4" transform="translate(760.8,334.5) rotate(10)" stroke="#222" stroke-width="1.0" fill="none" />
<path d="M750.5 333 C 751 340, 755 344, 761 344.5 C 767 344.5, 770 340, 770.5 336" stroke="#222" stroke-width="1.1" fill="none" />
<polygon points="779.0,333.0 786.0,328.6 790.0,332.0 791.0,338.0 786.0,341.0 780.0,340.0" stroke="#222" stroke-width="1.2" fill="#fff" stroke-linejoin="round" />
<ellipse cx="0" cy="0" rx="3.5" ry="2" transform="translate(784,343) rotate(0)" stroke="#222" stroke-width="1.1" fill="none" />
<path d="M782.0 331.0 L784.0 336.0" stroke="#222" stroke-width="0.9" fill="none" />
<ellipse cx="0" cy="0" rx="7" ry="9" transform="translate(820.5,423) rotate(20)" stroke="#222" stroke-width="1.5" fill="#fff" />
<ellipse cx="0" cy="0" rx="4.8" ry="6.8" transform="translate(821,423.5) rotate(20)" stroke="#222" stroke-width="1.2" fill="none" />
<path d="M816.0 429.0 L824.0 417.0" stroke="#222" stroke-width="1.0" fill="none" />
<path d="M303 489 C 308 486, 314 485, 320 486" stroke="#222" stroke-width="1.1" fill="none" />
<polygon points="305.0,492.0 316.0,488.0 321.0,520.0 318.0,542.0 309.0,546.0" stroke="#333" stroke-width="0.5" fill="#333" stroke-linejoin="round" />
<ellipse cx="0" cy="0" rx="9.5" ry="27" transform="translate(327,513) rotate(-12)" stroke="#222" stroke-width="1.3" fill="#fff" />
<ellipse cx="0" cy="0" rx="6.5" ry="24" transform="translate(325.5,513.5) rotate(-12)" stroke="#222" stroke-width="0.9" fill="none" />
<polygon points="264.5,507.6 305.6,501.5 312.0,520.0 311.7,541.0 269.0,550.2 262.0,540.0" stroke="#222" stroke-width="1.0" fill="#fff" stroke-linejoin="round" />
<path d="M268.0 515.0 L312.0 506.0" stroke="#222" stroke-width="1.7" fill="none" />
<path d="M268.0 517.3 L312.0 508.3" stroke="#222" stroke-width="1.1" fill="none" />
<path d="M268.0 519.5 L312.0 510.5" stroke="#222" stroke-width="1.7" fill="none" />
<path d="M268.0 521.8 L312.0 512.8" stroke="#222" stroke-width="1.1" fill="none" />
<path d="M268.0 524.1 L312.0 515.1" stroke="#222" stroke-width="1.7" fill="none" />
<path d="M268.0 526.3 L312.0 517.3" stroke="#222" stroke-width="1.1" fill="none" />
<path d="M268.0 528.6 L312.0 519.6" stroke="#222" stroke-width="1.7" fill="none" />
<path d="M268.0 530.9 L312.0 521.9" stroke="#222" stroke-width="1.1" fill="none" />
<path d="M268.0 533.1 L312.0 524.1" stroke="#222" stroke-width="1.7" fill="none" />
<path d="M268.0 535.4 L312.0 526.4" stroke="#222" stroke-width="1.1" fill="none" />
<path d="M268.0 537.7 L312.0 528.7" stroke="#222" stroke-width="1.7" fill="none" />
<path d="M268.0 539.9 L312.0 530.9" stroke="#222" stroke-width="1.1" fill="none" />
<path d="M268.0 542.2 L312.0 533.2" stroke="#222" stroke-width="1.7" fill="none" />
<path d="M268.0 544.5 L312.0 535.5" stroke="#222" stroke-width="1.1" fill="none" />
<path d="M268.0 546.7 L312.0 537.7" stroke="#222" stroke-width="1.7" fill="none" />
<path d="M268.0 549.0 L312.0 540.0" stroke="#222" stroke-width="1.1" fill="none" />
<path d="M264.5 507.6 L305.6 501.5" stroke="#222" stroke-width="1.2" fill="none" />
<path d="M266.0 512.0 L308.0 506.0" stroke="#222" stroke-width="1.0" fill="none" />
<path d="M269 550.2 L 311.7 541" stroke="#222" stroke-width="1.3" fill="none" />
<path d="M298.3 497.4 C 304 504, 318 512, 323.4 518 C 327 524, 328 530, 326.8 534 C 326 542, 324 546, 321 547.6 C 316 550, 310 549.5, 306.3 548.8 C 302 548, 299 547.5, 297 546.5" stroke="#222" stroke-width="3.4" fill="none" />
<path d="M298.3 497.4 C 304 504, 318 512, 323.4 518 C 327 524, 328 530, 326.8 534 C 326 542, 324 546, 321 547.6 C 316 550, 310 549.5, 306.3 548.8 C 302 548, 299 547.5, 297 546.5" stroke="#fff" stroke-width="1.4" fill="none" />
<polygon points="242.5,484.0 281.3,473.4 302.6,489.3 264.5,498.5" stroke="#222" stroke-width="1.3" fill="#fff" stroke-linejoin="round" />
<polygon points="242.5,484.0 264.5,498.5 264.5,507.6 242.5,494.0" stroke="#222" stroke-width="1.2" fill="#fff" stroke-linejoin="round" />
<polygon points="264.5,498.5 302.6,489.3 304.0,495.4 264.5,507.6" stroke="#222" stroke-width="1.2" fill="#fff" stroke-linejoin="round" />
<path d="M245.0 496.0 L262.0 508.0" stroke="#222" stroke-width="1.0" fill="none" />
<polygon points="264.5,479.0 283.0,475.0 290.4,482.0 290.4,489.0 272.0,493.0 264.5,487.0" stroke="#222" stroke-width="1.2" fill="#fff" stroke-linejoin="round" />
<path d="M264.5 479.0 L272.0 486.0 L290.4 482.0" stroke="#222" stroke-width="1.0" fill="none" />
<path d="M272.0 486.0 L272.0 493.0" stroke="#222" stroke-width="1.0" fill="none" />
<polygon points="268.0,478.5 281.0,475.5 286.0,479.5 273.0,482.5" stroke="#222" stroke-width="1.8" fill="#333" stroke-linejoin="round" />
<ellipse cx="0" cy="0" rx="0.7" ry="0.7" transform="translate(259,488.5) rotate(0)" stroke="#222" stroke-width="1.2" fill="none" />
<ellipse cx="0" cy="0" rx="2.2" ry="1.8" transform="translate(298,496) rotate(0)" stroke="#222" stroke-width="1.4" fill="none" />
<path d="M203.7 521.3 L 228 506 L 240 506 C 246 512, 248 540, 245 568 L 206.7 570 C 200 566, 196 560, 196 552 L 194.6 536.5 C 194 530, 198 525, 203.7 521.3 Z" stroke="#222" stroke-width="1.2" fill="#fff" />
<path d="M203.7 521.3 L235.6 515.2" stroke="#222" stroke-width="1.0" fill="none" />
<path d="M228.0 506.0 L235.6 515.2" stroke="#222" stroke-width="0.9" fill="none" />
<path d="M235.6 515.2 C 240 530, 241 555, 240.2 568.5" stroke="#222" stroke-width="1.0" fill="none" />
<path d="M199 528 L 204 526 C 208 528, 210 536, 208 542 L 203 544" stroke="#222" stroke-width="1.0" fill="#fff" />
<ellipse cx="0" cy="0" rx="5" ry="7.6" transform="translate(201.4,532.7) rotate(10)" stroke="#222" stroke-width="1.6" fill="#fff" />
<ellipse cx="0" cy="0" rx="3" ry="5" transform="translate(201.8,532.9) rotate(10)" stroke="#222" stroke-width="1.2" fill="none" />
<path d="M208 514 L 214 512 L 214.5 518 L 208.5 519.5 Z" stroke="#222" stroke-width="1.1" fill="#fff" />
<ellipse cx="0" cy="0" rx="3" ry="1.5" transform="translate(211,513) rotate(0)" stroke="#222" stroke-width="1.1" fill="#fff" />
<ellipse cx="0" cy="0" rx="5" ry="2.6" transform="translate(223.5,513.7) rotate(0)" stroke="#222" stroke-width="1.2" fill="#fff" />
<ellipse cx="0" cy="0" rx="1.5" ry="2.2" transform="translate(206,565) rotate(0)" stroke="#222" stroke-width="1.1" fill="none" />
<path d="M232.6 501.5 C 242 500, 250 505, 254 512 C 259 522, 261 540, 261.5 571.5 L 251 573 C 250 555, 248 528, 243 515 C 240 508, 236 505, 232.6 504.5 Z" stroke="#222" stroke-width="1.2" fill="#fff" />
<path d="M236 503 C 246 506, 251 516, 253 530 C 255 545, 255 560, 255 572" stroke="#222" stroke-width="0.9" fill="none" />
<path d="M254 512 L 264.5 512" stroke="#222" stroke-width="1.0" fill="none" />
<ellipse cx="0" cy="0" rx="1.2" ry="1.6" transform="translate(249,526) rotate(0)" stroke="#222" stroke-width="1.4" fill="none" />
<polygon points="261.5,547.2 269.0,550.2 275.2,564.0 275.2,571.5 261.5,574.5" stroke="#222" stroke-width="1.2" fill="#fff" stroke-linejoin="round" />
<path d="M275.7 566.5 L347.9 548.5 L347.9 517.8" stroke="#222" stroke-width="1.0" fill="none" stroke-dasharray="5 3"/>
<path d="M206.0 566.0 L186.3 571.0" stroke="#222" stroke-width="1.0" fill="none" stroke-dasharray="4 3"/>
<path d="M269.4 577.0 L269.4 661.0" stroke="#222" stroke-width="1.0" fill="none" stroke-dasharray="5 3"/>
<ellipse cx="0" cy="0" rx="2.8" ry="2.2" transform="translate(347,508.7) rotate(0)" stroke="#222" stroke-width="2.2" fill="none" />
<path d="M346.0 511.0 L346.0 518.0" stroke="#222" stroke-width="1.0" fill="none" />
<path d="M348.5 511.0 L348.5 518.0" stroke="#222" stroke-width="1.0" fill="none" />
<ellipse cx="0" cy="0" rx="4" ry="5" transform="translate(185.9,571) rotate(15)" stroke="#222" stroke-width="1.5" fill="none" />
<ellipse cx="0" cy="0" rx="1.8" ry="2.5" transform="translate(186,571) rotate(15)" stroke="#222" stroke-width="1.0" fill="none" />
<path d="M166 576.5 C 155 578, 146 581, 139 590 C 133 598, 130.5 610, 130.5 627" stroke="#222" stroke-width="8.2" fill="none" />
<path d="M166 576.5 C 155 578, 146 581, 139 590 C 133 598, 130.5 610, 130.5 627" stroke="#fff" stroke-width="6.2" fill="none" />
<path d="M131.0 616.0 L131.0 626.0" stroke="#222" stroke-width="1.0" fill="none" />
<path d="M150.0 578.5 L160.0 576.5" stroke="#222" stroke-width="0.9" fill="none" />
<polygon points="164.0,572.6 176.0,570.5 178.0,577.5 166.0,580.0" stroke="#222" stroke-width="1.2" fill="#fff" stroke-linejoin="round" />
<path d="M166.0 571.8 L167.5 579.5" stroke="#222" stroke-width="1.5" fill="none" />
<path d="M169.0 571.8 L170.5 579.5" stroke="#222" stroke-width="1.5" fill="none" />
<path d="M172.0 571.8 L173.5 579.5" stroke="#222" stroke-width="1.5" fill="none" />
<path d="M175.0 571.8 L176.5 579.5" stroke="#222" stroke-width="1.5" fill="none" />
<polygon points="125.8,626.0 135.3,626.0 135.3,630.0 125.8,630.0" stroke="#222" stroke-width="1.6" fill="#fff" stroke-linejoin="round" />
<polygon points="125.0,632.5 136.0,632.5 136.0,642.0 125.0,642.0" stroke="#222" stroke-width="1.6" fill="#fff" stroke-linejoin="round" />
<path d="M130.5 632.5 L130.5 642.0" stroke="#222" stroke-width="1.0" fill="none" />
<path d="M125.0 637.0 L136.0 637.0" stroke="#222" stroke-width="1.0" fill="none" />
<path d="M129.7 643.0 L129.7 686.0" stroke="#222" stroke-width="1.0" fill="none" stroke-dasharray="5 3"/>
<polygon points="71.2,662.3 77.2,656.2 90.4,655.2 104.6,662.3 107.7,690.7 96.0,703.0 90.0,711.0 83.8,701.9 74.7,694.8 73.2,690.7" stroke="#222" stroke-width="1.3" fill="#fff" stroke-linejoin="round" />
<path d="M77.2 656.2 L84.3 667.4" stroke="#222" stroke-width="1.0" fill="none" />
<path d="M79.0 660.0 L104.0 660.5" stroke="#222" stroke-width="0.8" fill="none" />
<polygon points="84.3,667.4 106.7,664.3 107.7,690.7 84.3,696.8" stroke="#222" stroke-width="2.2" fill="#fff" stroke-linejoin="round" />
<polygon points="86.0,669.0 105.0,666.5 105.5,689.0 86.0,694.0" stroke="#222" stroke-width="1.6" fill="none" stroke-linejoin="round" />
<ellipse cx="0" cy="0" rx="6.5" ry="7" transform="translate(97.5,678.5) rotate(0)" stroke="#222" stroke-width="2.0" fill="#fff" />
<ellipse cx="0" cy="0" rx="3.5" ry="4" transform="translate(98.5,678) rotate(0)" stroke="#222" stroke-width="1.4" fill="none" />
<ellipse cx="0" cy="0" rx="1.5" ry="1.5" transform="translate(99,677.5) rotate(0)" stroke="#222" stroke-width="1.5" fill="none" />
<path d="M88.0 674.0 L88.0 690.0" stroke="#222" stroke-width="2.0" fill="none" />
<ellipse cx="0" cy="0" rx="1.2" ry="1.2" transform="translate(89.5,692) rotate(0)" stroke="#222" stroke-width="1.8" fill="none" />
<ellipse cx="0" cy="0" rx="1.2" ry="1.2" transform="translate(98,690) rotate(0)" stroke="#222" stroke-width="1.8" fill="none" />
<ellipse cx="0" cy="0" rx="5.5" ry="5.2" transform="translate(92.5,706) rotate(0)" stroke="#222" stroke-width="2.4" fill="#fff" />
<ellipse cx="0" cy="0" rx="2.6" ry="2.4" transform="translate(93,706) rotate(0)" stroke="#222" stroke-width="1.4" fill="none" />
<ellipse cx="0" cy="0" rx="5.2" ry="5" transform="translate(107.2,701.4) rotate(0)" stroke="#222" stroke-width="2.4" fill="#fff" />
<ellipse cx="0" cy="0" rx="2.4" ry="2.2" transform="translate(107.7,701.6) rotate(0)" stroke="#222" stroke-width="1.4" fill="none" />
<path d="M113.8 689.7 L121.0 694.0" stroke="#222" stroke-width="0.9" fill="none" />
<path d="M111.7 705.0 L121.0 703.5" stroke="#222" stroke-width="0.9" fill="none" />
<polygon points="138.0,690.0 146.0,688.7 152.8,697.0 152.8,707.0 146.0,708.0 138.0,707.0" stroke="#222" stroke-width="1.2" fill="#fff" stroke-linejoin="round" />
<ellipse cx="0" cy="0" rx="3.8" ry="8.3" transform="translate(149.2,697.8) rotate(0)" stroke="#222" stroke-width="1.2" fill="#fff" />
<ellipse cx="0" cy="0" rx="6.5" ry="6.5" transform="translate(127,701) rotate(0)" stroke="#222" stroke-width="1.1" fill="#fff" />
<polygon points="125.9,688.5 135.6,688.5 135.6,697.0 125.9,697.0" stroke="#fff" stroke-width="0.01" fill="#fff" stroke-linejoin="round" />
<path d="M125.9 688.5 L125.9 697.0" stroke="#222" stroke-width="1.1" fill="none" />
<path d="M135.6 688.5 L135.6 697.5" stroke="#222" stroke-width="1.1" fill="none" />
<ellipse cx="0" cy="0" rx="4.85" ry="2.2" transform="translate(130.7,688.5) rotate(0)" stroke="#222" stroke-width="1.3" fill="#fff" />
<ellipse cx="0" cy="0" rx="3" ry="1.3" transform="translate(130.7,688.5) rotate(0)" stroke="#222" stroke-width="1.0" fill="none" />
<ellipse cx="0" cy="0" rx="5.2" ry="5.2" transform="translate(135,706) rotate(0)" stroke="#222" stroke-width="1.6" fill="#fff" />
<ellipse cx="0" cy="0" rx="2.8" ry="2.8" transform="translate(135.5,706.3) rotate(0)" stroke="#222" stroke-width="2.0" fill="none" />
<path d="M139.0 707.5 L147.2 713.0" stroke="#222" stroke-width="0.9" fill="none" />
<path d="M152.4 694.7 L167.5 691.0" stroke="#222" stroke-width="1.0" fill="none" stroke-dasharray="4 3"/>
<polygon points="126.0,721.0 137.3,720.0 137.3,726.0 126.0,727.0" stroke="#222" stroke-width="1.2" fill="#fff" stroke-linejoin="round" />
<polygon points="127.5,727.0 136.0,726.0 135.0,734.0 129.0,734.0" stroke="#222" stroke-width="1.3" fill="#fff" stroke-linejoin="round" />
<path d="M130.0 728.0 L130.0 733.0" stroke="#222" stroke-width="1.0" fill="none" />
<path d="M133.0 727.5 L133.0 733.0" stroke="#222" stroke-width="1.0" fill="none" />
<ellipse cx="0" cy="0" rx="11" ry="13" transform="translate(161.5,726.5) rotate(15)" stroke="#222" stroke-width="2.6" fill="#fff" />
<ellipse cx="0" cy="0" rx="10" ry="12" transform="translate(164.5,726) rotate(15)" stroke="#222" stroke-width="1.3" fill="#fff" />
<path d="M174.2 728.6 L172.7 728.2" stroke="#222" stroke-width="0.9" fill="none" />
<path d="M171.3 734.0 L170.3 733.0" stroke="#222" stroke-width="0.9" fill="none" />
<path d="M166.6 737.3 L166.3 735.9" stroke="#222" stroke-width="0.9" fill="none" />
<path d="M161.4 737.6 L161.8 736.1" stroke="#222" stroke-width="0.9" fill="none" />
<path d="M157.0 734.7 L158.0 733.7" stroke="#222" stroke-width="0.9" fill="none" />
<path d="M154.6 729.6 L156.0 729.2" stroke="#222" stroke-width="0.9" fill="none" />
<path d="M154.8 723.4 L156.3 723.8" stroke="#222" stroke-width="0.9" fill="none" />
<path d="M157.7 718.0 L158.7 719.0" stroke="#222" stroke-width="0.9" fill="none" />
<path d="M162.4 714.7 L162.7 716.1" stroke="#222" stroke-width="0.9" fill="none" />
<path d="M167.6 714.4 L167.2 715.9" stroke="#222" stroke-width="0.9" fill="none" />
<path d="M172.0 717.3 L171.0 718.3" stroke="#222" stroke-width="0.9" fill="none" />
<path d="M174.4 722.4 L173.0 722.8" stroke="#222" stroke-width="0.9" fill="none" />
<path d="M164.5 726.0 L170.0 736.0" stroke="#222" stroke-width="1.1" fill="none" />
<path d="M187.7 626.8 C 215 620, 260 607, 293.7 599.2 C 310 596, 330 600, 340 612 C 352 628, 357 655, 356 676 C 355 695, 350 708, 335 717 C 300 724, 240 736, 208 740 C 195 740, 186 733, 180 722 C 168 705, 164 680, 167 658 C 170 642, 176 630, 187.7 626.8 Z" stroke="#222" stroke-width="1.1" fill="#fff" />
<ellipse cx="0" cy="0" rx="20.5" ry="41" transform="translate(188,687) rotate(-6)" stroke="#222" stroke-width="1.2" fill="none" />
<ellipse cx="0" cy="0" rx="17" ry="30.5" transform="translate(185.5,686.5) rotate(-6)" stroke="#222" stroke-width="1.2" fill="none" />
<ellipse cx="0" cy="0" rx="13" ry="24" transform="translate(184,687) rotate(-6)" stroke="#222" stroke-width="1.1" fill="none" />
<ellipse cx="0" cy="0" rx="10" ry="17.5" transform="translate(182,686.5) rotate(-6)" stroke="#222" stroke-width="1.8" fill="none" />
<ellipse cx="0" cy="0" rx="7" ry="12.5" transform="translate(182,687) rotate(-6)" stroke="#222" stroke-width="1.5" fill="none" />
<ellipse cx="0" cy="0" rx="4.5" ry="8" transform="translate(182.5,688) rotate(-6)" stroke="#222" stroke-width="1.0" fill="none" />
<polygon points="170.0,685.5 183.0,684.4 184.5,688.0 184.5,693.0 183.0,695.8 170.0,695.8" stroke="#222" stroke-width="1.2" fill="#fff" stroke-linejoin="round" />
<ellipse cx="0" cy="0" rx="2.6" ry="5.2" transform="translate(170,690.7) rotate(0)" stroke="#222" stroke-width="1.6" fill="#fff" />
<path d="M176.0 686.0 L176.0 695.5" stroke="#222" stroke-width="0.8" fill="none" />
<path d="M222.3 739.0 L239.4 751.2" stroke="#222" stroke-width="1.0" fill="none" />
<polygon points="235.1,735.3 252.8,731.7 257.6,745.0 265.0,752.4 265.5,754.5 246.0,757.5 245.5,754.8" stroke="#222" stroke-width="1.6" fill="#fff" stroke-linejoin="round" />
<path d="M237.0 735.0 L246.5 753.0" stroke="#222" stroke-width="1.0" fill="none" />
<path d="M243.6 748.1 L257.6 745.0" stroke="#222" stroke-width="1.1" fill="none" />
<path d="M245.5 754.8 L265.0 752.0" stroke="#222" stroke-width="1.0" fill="none" />
<path d="M236.0 737.5 L252.5 734.0" stroke="#222" stroke-width="1.0" fill="none" />
<ellipse cx="0" cy="0" rx="1.4" ry="0.9" transform="translate(252.2,749.8) rotate(0)" stroke="#222" stroke-width="1.4" fill="none" />
<path d="M296.8 721.5 L313.9 733.7" stroke="#222" stroke-width="1.0" fill="none" />
<polygon points="309.6,717.8 327.3,714.2 332.1,727.5 339.5,734.9 340.0,737.0 320.5,740.0 320.0,737.3" stroke="#222" stroke-width="1.6" fill="#fff" stroke-linejoin="round" />
<path d="M311.5 717.5 L321.0 735.5" stroke="#222" stroke-width="1.0" fill="none" />
<path d="M318.1 730.6 L332.1 727.5" stroke="#222" stroke-width="1.1" fill="none" />
<path d="M320.0 737.3 L339.5 734.5" stroke="#222" stroke-width="1.0" fill="none" />
<path d="M310.5 720.0 L327.0 716.5" stroke="#222" stroke-width="1.0" fill="none" />
<ellipse cx="0" cy="0" rx="1.4" ry="0.9" transform="translate(326.7,732.3) rotate(0)" stroke="#222" stroke-width="1.4" fill="none" />
<polygon points="206.6,603.5 269.0,589.0 311.0,621.0 248.7,632.6" stroke="#222" stroke-width="1.2" fill="#fff" stroke-linejoin="round" />
<path d="M206.6 603.5 L208.0 622.4" stroke="#222" stroke-width="1.2" fill="none" />
<polygon points="248.7,632.6 311.0,621.0 311.0,642.7 295.0,647.0 295.0,629.7 266.0,637.0 266.0,652.9 250.0,657.2" stroke="#222" stroke-width="1.2" fill="#fff" stroke-linejoin="round" />
<path d="M218.9 607.3 L241.8 611.0" stroke="#222" stroke-width="3.0" fill="none" />
<path d="M218.9 607.3 L241.8 611.0" stroke="#fff" stroke-width="1.0" fill="none" />
<path d="M244.2 600.5 L255.0 605.6" stroke="#222" stroke-width="3.0" fill="none" />
<path d="M244.2 600.5 L255.0 605.6" stroke="#fff" stroke-width="1.0" fill="none" />
<path d="M266.5 603.0 L272.5 595.8" stroke="#222" stroke-width="3.0" fill="none" />
<path d="M266.5 603.0 L272.5 595.8" stroke="#fff" stroke-width="1.0" fill="none" />
<path d="M278.0 612.0 L300.8 615.8" stroke="#222" stroke-width="3.0" fill="none" />
<path d="M278.0 612.0 L300.8 615.8" stroke="#fff" stroke-width="1.0" fill="none" />
<path d="M248.3 626.0 L253.4 619.8" stroke="#222" stroke-width="3.0" fill="none" />
<path d="M248.3 626.0 L253.4 619.8" stroke="#fff" stroke-width="1.0" fill="none" />
<path d="M266.5 616.3 L276.2 622.5" stroke="#222" stroke-width="3.0" fill="none" />
<path d="M266.5 616.3 L276.2 622.5" stroke="#fff" stroke-width="1.0" fill="none" />
<path d="M269.0 590.0 L269.0 660.0" stroke="#222" stroke-width="1.0" fill="none" stroke-dasharray="5 3"/>
<ellipse cx="0" cy="0" rx="3" ry="2.5" transform="translate(269,663) rotate(0)" stroke="#222" stroke-width="2.0" fill="none" />
<path d="M378 571.7 C 386 574, 393 577, 396.4 582 C 399 587, 400 592, 401 600 C 402 610, 404 625, 404.3 636.7 C 404 642, 402 646, 398.6 648 C 392 652, 385 654, 375.8 657.2 C 368 660, 360 664, 353 666.4 C 343 668, 333 665, 325.6 664 C 320 663, 316 661.5, 312 661.8 C 307 662, 304 664, 302.8 666.4 C 300 670, 299 674, 298.3 677.8 L 297 684" stroke="#222" stroke-width="3.2" fill="none" />
<path d="M378 571.7 C 386 574, 393 577, 396.4 582 C 399 587, 400 592, 401 600 C 402 610, 404 625, 404.3 636.7 C 404 642, 402 646, 398.6 648 C 392 652, 385 654, 375.8 657.2 C 368 660, 360 664, 353 666.4 C 343 668, 333 665, 325.6 664 C 320 663, 316 661.5, 312 661.8 C 307 662, 304 664, 302.8 666.4 C 300 670, 299 674, 298.3 677.8 L 297 684" stroke="#fff" stroke-width="1.3" fill="none" />
<path d="M361.0 567.1 L378.0 571.7" stroke="#222" stroke-width="2.4" fill="none" />
<path d="M363.0 566.0 L366.0 569.0" stroke="#222" stroke-width="1.0" fill="none" />
<path d="M368.0 567.5 L371.0 571.0" stroke="#222" stroke-width="1.0" fill="none" />
<path d="M297.0 683.0 L296.0 691.0" stroke="#222" stroke-width="2.6" fill="none" />
<text transform="translate(783.5,52.3) scale(0.364,1)" text-anchor="middle" class="n" font-size="14.80">1</text>
<text transform="translate(810.0,63.3) scale(0.607,1)" text-anchor="middle" class="n" font-size="14.80">2</text>
<text transform="translate(841.0,70.3) scale(0.607,1)" text-anchor="middle" class="n" font-size="14.80">3</text>
<text transform="translate(879.0,86.3) scale(0.668,1)" text-anchor="middle" class="n" font-size="14.80">4</text>
<text transform="translate(905.5,97.6) scale(0.607,1)" text-anchor="middle" class="n" font-size="14.80">5</text>
<text transform="translate(943.0,111.8) scale(0.607,1)" text-anchor="middle" class="n" font-size="14.80">6</text>
<text transform="translate(978.8,129.3) scale(0.607,1)" text-anchor="middle" class="n" font-size="14.80">7</text>
<text transform="translate(997.0,144.6) scale(0.607,1)" text-anchor="middle" class="n" font-size="14.80">8</text>
<text transform="translate(1010.7,158.3) scale(0.607,1)" text-anchor="middle" class="n" font-size="14.80">9</text>
<text transform="translate(1038.8,172.7) scale(0.516,1)" text-anchor="middle" class="n" font-size="14.80">10</text>
<text transform="translate(1091.0,220.3) scale(0.425,1)" text-anchor="middle" class="n" font-size="14.80">11</text>
<text transform="translate(885.0,275.3) scale(0.577,1)" text-anchor="middle" class="n" font-size="14.80">12</text>
<text transform="translate(825.8,286.3) scale(0.577,1)" text-anchor="middle" class="n" font-size="14.80">13</text>
<text transform="translate(770.2,274.5) scale(0.577,1)" text-anchor="middle" class="n" font-size="14.80">14</text>
<text transform="translate(740.8,273.3) scale(0.516,1)" text-anchor="middle" class="n" font-size="14.80">15</text>
<text transform="translate(706.8,280.3) scale(0.577,1)" text-anchor="middle" class="n" font-size="14.80">16</text>
<text transform="translate(666.9,288.6) scale(0.516,1)" text-anchor="middle" class="n" font-size="14.80">17</text>
<text transform="translate(638.0,53.3) scale(0.547,1)" text-anchor="middle" class="n" font-size="14.80">18</text>
<text transform="translate(608.5,66.3) scale(0.547,1)" text-anchor="middle" class="n" font-size="14.80">19</text>
<text transform="translate(571.0,89.3) scale(0.638,1)" text-anchor="middle" class="n" font-size="14.80">49</text>
<text transform="translate(550.8,102.5) scale(0.607,1)" text-anchor="middle" class="n" font-size="14.80">50</text>
<text transform="translate(514.5,122.3) scale(0.607,1)" text-anchor="middle" class="n" font-size="14.80">22</text>
<text transform="translate(468.8,147.8) scale(0.547,1)" text-anchor="middle" class="n" font-size="14.80">51</text>
<text transform="translate(539.0,261.5) scale(0.620,1)" text-anchor="middle" class="n" font-size="14.80">23</text>
<text transform="translate(334.0,255.1) scale(0.638,1)" text-anchor="middle" class="n" font-size="14.80">26</text>
<text transform="translate(414.4,415.4) scale(0.607,1)" text-anchor="middle" class="n" font-size="14.80">29</text>
<text transform="translate(449.1,416.9) scale(0.607,1)" text-anchor="middle" class="n" font-size="14.80">30</text>
<text transform="translate(479.4,420.5) scale(0.577,1)" text-anchor="middle" class="n" font-size="14.80">31</text>
<text transform="translate(509.3,425.6) scale(0.607,1)" text-anchor="middle" class="n" font-size="14.80">32</text>
<text transform="translate(535.7,430.6) scale(0.607,1)" text-anchor="middle" class="n" font-size="14.80">33</text>
<text transform="translate(578.5,441.1) scale(0.607,1)" text-anchor="middle" class="n" font-size="14.80">34</text>
<text transform="translate(613.0,444.1) scale(0.607,1)" text-anchor="middle" class="n" font-size="14.80">35</text>
<text transform="translate(636.3,452.3) scale(0.607,1)" text-anchor="middle" class="n" font-size="14.80">36</text>
<text transform="translate(661.0,465.3) scale(0.607,1)" text-anchor="middle" class="n" font-size="14.80">37</text>
<text transform="translate(686.0,472.3) scale(0.607,1)" text-anchor="middle" class="n" font-size="14.80">38</text>
<text transform="translate(712.6,485.7) scale(0.607,1)" text-anchor="middle" class="n" font-size="14.80">39</text>
<text transform="translate(784.5,305.9) scale(0.607,1)" text-anchor="middle" class="n" font-size="14.80">43</text>
<text transform="translate(829.8,319.8) scale(0.607,1)" text-anchor="middle" class="n" font-size="14.80">45</text>
<text transform="translate(845.3,316.8) scale(0.607,1)" text-anchor="middle" class="n" font-size="14.80">47</text>
<text transform="translate(849.7,443.1) scale(0.607,1)" text-anchor="middle" class="n" font-size="14.80">43</text>
<text transform="translate(94.4,508.9) scale(0.567,1)" text-anchor="middle" class="n" font-size="14.80">902</text>
<text transform="translate(117.7,508.9) scale(0.567,1)" text-anchor="middle" class="n" font-size="14.80">901</text>
<text transform="translate(84.7,552.7) scale(0.567,1)" text-anchor="middle" class="n" font-size="14.80">903</text>
<text transform="translate(41.4,633.1) scale(0.607,1)" text-anchor="middle" class="n" font-size="14.80">904</text>
<text transform="translate(91.9,740.3) scale(0.607,1)" text-anchor="middle" class="n" font-size="14.80">905</text>
<text transform="translate(93.0,766.8) scale(0.607,1)" text-anchor="middle" class="n" font-size="14.80">906</text>
<text transform="translate(115.3,766.8) scale(0.607,1)" text-anchor="middle" class="n" font-size="14.80">908</text>
<text transform="translate(181.4,765.5) scale(0.607,1)" text-anchor="middle" class="n" font-size="14.80">909</text>
<text transform="translate(382.2,714.8) scale(0.567,1)" text-anchor="middle" class="n" font-size="14.80">910</text>
<text transform="translate(438.8,643.7) scale(0.526,1)" text-anchor="middle" class="n" font-size="14.80">911</text>
<text transform="translate(384.0,496.3) scale(0.567,1)" text-anchor="middle" class="n" font-size="14.80">912</text>
<text transform="translate(407.0,496.3) scale(0.567,1)" text-anchor="middle" class="n" font-size="14.80">913</text>
<text x="987" y="109.8" class="c" font-size="13.6" stroke="#111" stroke-width="0.12" textLength="44.5" lengthAdjust="spacingAndGlyphs">8А,Б,В</text>
<path d="M780.5 55.5 L758.5 90.5" stroke="#222" stroke-width="1.1" fill="none" />
<path d="M807.3 64.0 L789.2 130.0" stroke="#222" stroke-width="1.1" fill="none" />
<path d="M838.6 71.6 L816.4 135.0" stroke="#222" stroke-width="1.1" fill="none" />
<path d="M876.5 88.0 L856.7 136.7" stroke="#222" stroke-width="1.1" fill="none" />
<path d="M901.7 99.0 L881.7 169.3" stroke="#222" stroke-width="1.1" fill="none" />
<path d="M941.6 114.0 L928.3 148.4" stroke="#222" stroke-width="1.1" fill="none" />
<path d="M976.0 131.7 L958.2 175.8" stroke="#222" stroke-width="1.1" fill="none" />
<path d="M993.5 146.6 L966.6 184.9" stroke="#222" stroke-width="1.1" fill="none" />
<path d="M1006.4 158.8 L975.0 206.0" stroke="#222" stroke-width="1.1" fill="none" />
<path d="M1033.0 175.0 L1015.0 222.0" stroke="#222" stroke-width="1.1" fill="none" />
<path d="M1087.0 226.0 L1070.0 252.0" stroke="#222" stroke-width="1.1" fill="none" />
<path d="M902.8 236.2 L890.0 261.0" stroke="#222" stroke-width="1.1" fill="none" />
<path d="M804.2 242.2 L820.7 272.7" stroke="#222" stroke-width="1.1" fill="none" />
<path d="M756.0 197.6 L770.2 261.0" stroke="#222" stroke-width="1.1" fill="none" />
<path d="M738.5 215.2 L740.8 259.8" stroke="#222" stroke-width="1.1" fill="none" />
<path d="M710.3 218.7 L702.1 265.7" stroke="#222" stroke-width="1.1" fill="none" />
<path d="M622.3 256.3 L662.2 275.0" stroke="#222" stroke-width="1.1" fill="none" />
<path d="M641.0 60.0 L644.4 78.8" stroke="#222" stroke-width="1.1" fill="none" />
<path d="M611.0 67.0 L649.3 161.8" stroke="#222" stroke-width="1.1" fill="none" />
<path d="M580.9 93.0 L600.7 130.0" stroke="#222" stroke-width="1.1" fill="none" />
<path d="M550.8 103.8 L579.3 138.4" stroke="#222" stroke-width="1.1" fill="none" />
<path d="M515.0 124.4 L544.7 155.0" stroke="#222" stroke-width="1.1" fill="none" />
<path d="M469.7 150.0 L482.9 160.6" stroke="#222" stroke-width="1.1" fill="none" />
<path d="M490.5 211.7 L535.8 242.2" stroke="#222" stroke-width="1.1" fill="none" />
<path d="M343.9 253.9 L369.4 260.5" stroke="#222" stroke-width="1.1" fill="none" />
<path d="M413.0 330.0 L414.4 400.8" stroke="#222" stroke-width="1.1" fill="none" />
<path d="M458.3 309.0 L449.8 401.5" stroke="#222" stroke-width="1.1" fill="none" />
<path d="M461.4 338.7 L480.1 405.8" stroke="#222" stroke-width="1.1" fill="none" />
<path d="M501.0 351.7 L509.7 410.0" stroke="#222" stroke-width="1.1" fill="none" />
<path d="M527.8 345.2 L535.7 416.6" stroke="#222" stroke-width="1.1" fill="none" />
<path d="M572.5 372.0 L577.5 427.6" stroke="#222" stroke-width="1.1" fill="none" />
<path d="M608.0 403.3 L612.0 429.7" stroke="#222" stroke-width="1.1" fill="none" />
<path d="M643.4 387.0 L635.3 437.8" stroke="#222" stroke-width="1.1" fill="none" />
<path d="M672.0 405.3 L661.7 452.0" stroke="#222" stroke-width="1.1" fill="none" />
<path d="M695.0 390.0 L686.0 460.0" stroke="#222" stroke-width="1.1" fill="none" />
<path d="M719.3 473.7 L743.2 443.0" stroke="#222" stroke-width="1.1" fill="none" />
<path d="M777.9 307.3 L760.6 328.6" stroke="#222" stroke-width="1.1" fill="none" />
<path d="M824.5 316.6 L788.5 338.0" stroke="#222" stroke-width="1.1" fill="none" />
<path d="M825.8 428.4 L844.4 435.0" stroke="#222" stroke-width="1.1" fill="none" />
<polygon points="977.0,108.9 1010.0,137.0 999.0,149.6 966.2,121.4" stroke="#222" stroke-width="1.0" fill="none" stroke-linejoin="round" />
<path d="M85.2 510.9 L103.9 510.9 L106.3 515.5 L108.7 510.9 L127.4 510.9 L185.0 566.0" stroke="#222" stroke-width="1.1" fill="none" />
<path d="M75.4 555.0 L94.1 555.0 L145.3 584.0" stroke="#222" stroke-width="1.1" fill="none" />
<path d="M33.9 635.4 L51.5 635.4 L78.0 659.4" stroke="#222" stroke-width="1.1" fill="none" />
<path d="M83.0 741.3 L102.0 741.3 L123.4 711.0" stroke="#222" stroke-width="1.1" fill="none" />
<path d="M84.3 767.8 L100.7 767.8 L104.5 773.0 L108.3 767.8 L126.0 767.8 L131.0 733.8" stroke="#222" stroke-width="1.1" fill="none" />
<path d="M191.5 767.8 L171.3 767.8 L163.8 736.3" stroke="#222" stroke-width="1.1" fill="none" />
<path d="M389.5 716.7 L373.5 716.7 L338.7 702.2" stroke="#222" stroke-width="1.1" fill="none" />
<path d="M446.0 645.6 L427.2 645.6 L405.4 626.8" stroke="#222" stroke-width="1.1" fill="none" />
<path d="M350.6 507.8 L374.0 498.5 L392.0 498.5 L395.0 503.0 L398.0 498.5 L416.0 498.5" stroke="#222" stroke-width="1.1" fill="none" />
</svg></body></html>
